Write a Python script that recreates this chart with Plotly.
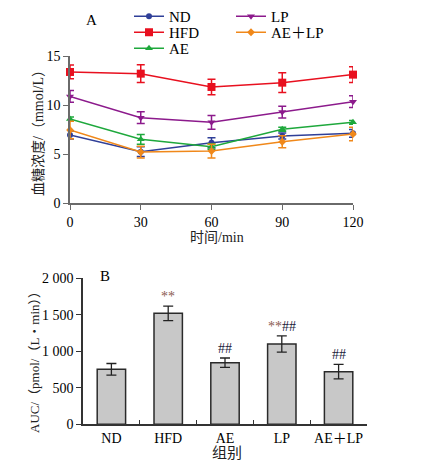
import plotly.graph_objects as go

# ---- Panel A data ----
time_min = [0, 30, 60, 90, 120]
nd = [6.94, 5.24, 6.15, 6.84, 7.11]
nd_err = [0.4, 0.5, 0.5, 0.3, 0.4]
hfd = [13.37, 13.2, 11.84, 12.28, 13.1]
hfd_err = [0.7, 0.9, 0.8, 1.0, 0.8]
ae = [8.57, 6.5, 5.75, 7.52, 8.23]
ae_err = [0.2, 0.5, 0.3, 0.2, 0.2]
lp = [10.88, 8.7, 8.23, 9.28, 10.34]
lp_err = [0.6, 0.6, 0.7, 0.6, 0.6]
aelp = [7.45, 5.2, 5.3, 6.25, 7.04]
aelp_err = [0.9, 0.6, 0.7, 0.6, 0.7]

# ---- Panel B data ----
groups = ["ND", "HFD", "AE", "LP", "AE＋LP"]
auc = [753, 1520, 844, 1100, 721]
auc_err = [80, 100, 64, 110, 100]
marks = ["", "**", "##", "**##", "##"]

y_ticks_b = [0, 500, 1000, 1500, 2000]
y_ticklabels_b = ["0", "500", "1 000", "1 500", "2 000"]

FONT = "Liberation Serif, Times New Roman, Noto Sans CJK SC, serif"
CJK = "Liberation Serif, Noto Sans CJK SC, serif"
AXC = "#6a6a6a"
TXT = "#222222"

fig = go.Figure()

# name, values, errors, colour, symbol, size, legend id, legend x px, legend y px
series = [
    ("ND", nd, nd_err, "#2f3f98", "circle", 6, "legend", 129, 16.5),
    ("HFD", hfd, hfd_err, "#e8101f", "square", 8, "legend2", 129, 32.5),
    ("AE", ae, ae_err, "#1ea83c", "triangle-up", 7, "legend3", 129, 48.5),
    ("LP", lp, lp_err, "#8c1a8c", "triangle-down", 7, "legend4", 231, 16.5),
    ("AE＋LP", aelp, aelp_err, "#f0881a", "diamond", 6, "legend5", 231, 32.5),
]
legend_layout = {}
for name, vals, errs, col, sym, sz, lg, lx, ly in series:
    fig.add_trace(go.Scatter(
        x=time_min, y=vals, name=name, mode="lines+markers",
        line=dict(color=col, width=1.5),
        marker=dict(color=col, symbol=sym, size=sz),
        error_y=dict(type="data", array=errs, visible=True, color=col,
                     thickness=1.5, width=4),
        cliponaxis=False, xaxis="x", yaxis="y", legend=lg,
    ))
    legend_layout[lg] = dict(x=lx/425, y=1-ly/464, xanchor="left", yanchor="middle",
                             font=dict(size=15, family=FONT, color="black"),
                             bgcolor="rgba(0,0,0,0)", itemwidth=30,
                             borderwidth=0)

fig.add_trace(go.Bar(
    x=groups, y=auc, width=0.5, showlegend=False,
    marker=dict(color="#c8c8c8", line=dict(color="#2a2a2a", width=1.5)),
    error_y=dict(type="data", array=auc_err, visible=True, color="#222",
                 thickness=1.3, width=5),
    xaxis="x2", yaxis="y2",
))

fig.update_layout(
    width=425, height=464,
    margin=dict(l=0, r=0, t=0, b=0),
    paper_bgcolor="white", plot_bgcolor="white",
    font=dict(family=FONT, size=14, color="black"),
    showlegend=True,
    xaxis=dict(domain=[70/425, 353/425], range=[0, 120],
               tickvals=time_min, ticks="outside", ticklen=5, tickcolor=AXC,
               showline=True, linecolor=AXC, linewidth=1.5, showgrid=False,
               zeroline=False, anchor="y", tickfont=dict(size=14), automargin=False),
    yaxis=dict(domain=[1-203/464, 1-56/464], range=[0, 15],
               tickvals=[0, 5, 10, 15], ticks="outside", ticklen=5, tickcolor=AXC,
               showline=True, linecolor=AXC, linewidth=1.5, showgrid=False,
               zeroline=False, anchor="x", tickfont=dict(size=14), automargin=False),
    xaxis2=dict(domain=[83/425, 367/425], range=[-0.5, 4.5], type="category",
                ticks="inside", tickson="boundaries", ticklen=5, tickcolor="#333",
                showline=True, linecolor="#333", linewidth=1.5, showgrid=False,
                zeroline=False, anchor="y2", tickfont=dict(size=14), tickangle=0,
                automargin=False),
    yaxis2=dict(domain=[1-424.3/464, 1-278.3/464], range=[0, 2000],
                tickvals=y_ticks_b, ticktext=y_ticklabels_b,
                ticks="outside", ticklen=5, tickcolor="#333",
                showline=True, linecolor="#333", linewidth=1.5, showgrid=False,
                zeroline=False, anchor="x2", tickfont=dict(size=14), automargin=False),
    **legend_layout,
)

ann = [
    dict(text="A", x=91/425, y=1-20/464, font=dict(size=15, color="black")),
    dict(text="B", x=105/425, y=1-276/464, font=dict(size=15, color="black")),
    dict(text="血糖浓度/（mmol/L）", x=38/425, y=1-130/464, textangle=-90,
         font=dict(size=14, family=CJK, color=TXT)),
    dict(text="时间/min", x=217/425, y=1-237/464, font=dict(size=14, family=CJK, color=TXT)),
    dict(text="AUC/（pmol/（L・min））", x=34/425, y=1-359/464, textangle=-90,
         font=dict(size=13, family=CJK, color=TXT)),
    dict(text="组别", x=227/425, y=1-453/464, font=dict(size=15, family=CJK, color=TXT)),
]
for a in ann:
    fig.add_annotation(xref="paper", yref="paper", showarrow=False,
                       xanchor="center", yanchor="middle", **a)

for g, v, e, m in zip(groups, auc, auc_err, marks):
    if not m:
        continue
    txt = m.replace("**", '<span style="color:#8a5a50">**</span>')
    fig.add_annotation(x=g, y=v + e, xref="x2", yref="y2", text=txt,
                       showarrow=False, yanchor="bottom", yshift=0,
                       font=dict(size=14, color="#1a1a3a"))

fig.write_html("out.html")
